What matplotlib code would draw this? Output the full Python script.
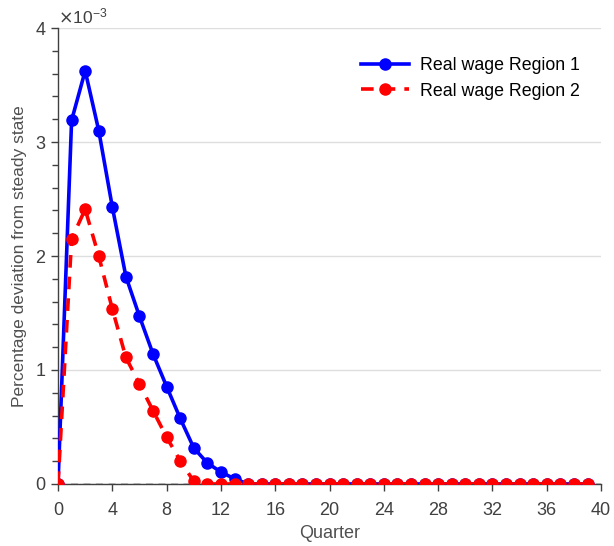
import numpy as np
import matplotlib
matplotlib.use("Agg")
import matplotlib.pyplot as plt
from matplotlib.ticker import MultipleLocator, ScalarFormatter

quarters = np.arange(40)
region1 = np.array([0.0, 3.19, 3.625, 3.10, 2.43, 1.82, 1.47, 1.14, 0.855, 0.575,
                    0.316, 0.184, 0.105, 0.045] + [0.0] * 26) * 1e-3
region2 = np.array([0.0, 2.15, 2.41, 2.00, 1.535, 1.11, 0.877, 0.643, 0.41, 0.204,
                    0.023] + [0.0] * 29) * 1e-3
labels = ["Real wage Region 1", "Real wage Region 2"]

plt.rcParams['font.family'] = ['Liberation Sans', 'DejaVu Sans']
fig = plt.figure(figsize=(6.14, 5.46), dpi=100)
ax = fig.add_axes([0.0945, 0.1136, 0.8845, 0.835])

tick_col = '#404040'
ax.grid(axis='y', color='#dedede', linewidth=1.0)
ax.set_axisbelow(True)
ax.axhline(0, color='black', linestyle=(0, (5, 4)), linewidth=1.0, zorder=1)

ax.plot(quarters, region1, color='#0000ff', linewidth=2.6, marker='o',
        markersize=8, label=labels[0], zorder=3)
ax.plot(quarters, region2, color='#ff0000', linewidth=2.6, linestyle=(0, (3.5, 2.5)),
        marker='o', markersize=8, label=labels[1], zorder=4)

ax.set_xlim(0, 40)
ax.set_ylim(0, 4e-3)
ax.xaxis.set_major_locator(MultipleLocator(4))
ax.yaxis.set_major_locator(MultipleLocator(1e-3))
ax.yaxis.set_minor_locator(MultipleLocator(0.2e-3))
fmt = ScalarFormatter(useMathText=True)
fmt.set_powerlimits((-3, -3))
ax.yaxis.set_major_formatter(fmt)
ax.yaxis.get_offset_text().set_fontsize(12.5)
ax.yaxis.get_offset_text().set_color(tick_col)

for s in ['top', 'right']:
    ax.spines[s].set_visible(False)
for s in ['left', 'bottom']:
    ax.spines[s].set_color(tick_col)
    ax.spines[s].set_linewidth(1.0)
ax.tick_params(axis='both', which='major', direction='out', length=5, width=1,
               colors=tick_col, labelsize=13, labelcolor=tick_col)
ax.tick_params(axis='y', which='minor', direction='out', length=4, width=1, colors=tick_col)
ax.tick_params(axis='x', pad=8)

ax.set_ylabel('Percentage deviation from steady state', fontsize=12.5, color='#505050')
ax.set_xlabel('Quarter', fontsize=13, color='#505050', labelpad=4)
ax.yaxis.set_label_coords(-0.058, 0.5)

leg = ax.legend(loc='upper right', bbox_to_anchor=(0.99, 0.972), frameon=False,
                fontsize=12.8, handlelength=2.7, handletextpad=0.6, labelspacing=0.5)

fig.savefig('out.png', dpi=100)
